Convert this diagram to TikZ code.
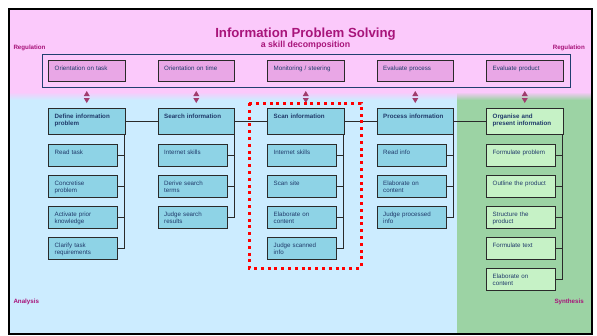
\documentclass[tikz,border=0pt]{standalone}
\usepackage{fontspec}
\setmainfont{Liberation Sans}
\definecolor{pinkbg}{HTML}{FBC9FB}
\definecolor{bluebg}{HTML}{CCECFF}
\definecolor{greenbg}{HTML}{9CD3A4}
\definecolor{cyanbox}{HTML}{8ED3E6}
\definecolor{greenbox}{HTML}{C6F2C6}
\definecolor{regbox}{HTML}{E9A7E6}
\definecolor{txt}{HTML}{203A6A}
\definecolor{mag}{HTML}{A8147A}
\definecolor{arrcol}{HTML}{A03C6E}
\definecolor{boxline}{HTML}{2A2A2A}
\definecolor{regline}{HTML}{1F3F6F}
\newcommand\bx[5]{\node[#1] (#2) at (#3,#4) {}; \node[lab] (#2t) at ([shift={(6.5,10)}]#2.north west) {#5};}
\begin{document}
\begin{tikzpicture}[x=1pt,y=-1pt,
  base/.style={draw=boxline, line width=1pt, anchor=north west, inner sep=0pt},
  regb/.style={base, fill=regbox, minimum width=76.5pt, minimum height=21pt},
  mainb/.style={base, fill=cyanbox, minimum width=76.5pt, minimum height=26pt},
  mainbg/.style={mainb, fill=greenbox},
  subb/.style={base, fill=cyanbox, minimum width=69pt, minimum height=21.5pt},
  subbg/.style={subb, fill=greenbox},
  lab/.style={anchor=base west, text width=68pt, align=left, inner sep=0pt, font=\fontsize{6.2}{7.5}\selectfont, text=txt},
  side/.style={inner sep=0pt, font=\bfseries\fontsize{6.2}{7}\selectfont, text=mag},
  conn/.style={draw=boxline, line width=0.8pt},
  arr/.style={fill=arrcol}
]
\useasboundingbox (0,0) rectangle (597,335);
\fill[white] (0,0) rectangle (597,335);
\fill[pinkbg] (8,8) rectangle (592,92);
\shade[top color=pinkbg,bottom color=bluebg] (8,92) rectangle (457,100);
\fill[bluebg] (8,100) rectangle (457,333.5);
\shade[top color=pinkbg,bottom color=greenbg] (457,92) rectangle (592,100);
\fill[greenbg] (457,100) rectangle (592,333.5);
\draw[line width=2pt] (8.5,8.5) rectangle (591.7,333.5);

% titles
\node[anchor=base, inner sep=0pt, font=\bfseries\fontsize{13.2}{15}\selectfont, text=mag] (title) at (305.5,37.3) {Information Problem Solving};
\node[anchor=base, inner sep=0pt, font=\bfseries\fontsize{8.8}{10}\selectfont, text=mag] (subtitle) at (305.5,47.7) {a skill decomposition};
\node[side, anchor=base west] (regl) at (13.3,49.8) {Regulation};
\node[side, anchor=base east] (regr) at (585,49.3) {Regulation};
\node[side, anchor=base west] (ana) at (13.3,303.9) {Analysis};
\node[side, anchor=base east] (syn) at (584,303.9) {Synthesis};

% regulation frame
\node[draw=regline, line width=0.8pt, anchor=north west, inner sep=0pt, minimum width=528pt, minimum height=33pt] (regframe) at (42,54) {};

% regulation boxes
\bx{regb}{r1}{48}{60}{Orientation on task}
\bx{regb}{r2}{157.5}{60}{Orientation on time}
\bx{regb}{r3}{267}{60}{Monitoring / steering}
\bx{regb}{r4}{376.5}{60}{Evaluate process}
\bx{regb}{r5}{486}{60}{Evaluate product}

% arrows
\foreach \n in {r1,r2,r3,r4,r5}{
  \fill[arr] ([shift={(-3,14)}]\n.south) -- ([shift={(3,14)}]\n.south) -- ([shift={(0,9)}]\n.south) -- cycle;
  \fill[arr] ([shift={(-3,16)}]\n.south) -- ([shift={(3,16)}]\n.south) -- ([shift={(0,21)}]\n.south) -- cycle;
}

% main boxes
\bx{mainb}{m1}{48}{108}{\bfseries Define information\\problem}
\bx{mainb}{m2}{157.5}{108}{\bfseries Search information}
\bx{mainb}{m3}{267}{108}{\bfseries Scan information}
\bx{mainb}{m4}{376.5}{108}{\bfseries Process information}
\bx{mainbg}{m5}{486}{108}{\bfseries Organise and\\present information}

% sub boxes column 1
\bx{subb}{a1}{48}{144}{Read task}
\bx{subb}{a2}{48}{175}{Concretise\\problem}
\bx{subb}{a3}{48}{206}{Activate prior\\knowledge}
\bx{subb}{a4}{48}{237}{Clarify task\\requirements}
% column 2
\bx{subb}{b1}{157.5}{144}{Internet skills}
\bx{subb}{b2}{157.5}{175}{Derive search\\terms}
\bx{subb}{b3}{157.5}{206}{Judge search\\results}
% column 3
\bx{subb}{c1}{267}{144}{Internet skills}
\bx{subb}{c2}{267}{175}{Scan site}
\bx{subb}{c3}{267}{206}{Elaborate on\\content}
\bx{subb}{c4}{267}{237}{Judge scanned\\info}
% column 4
\bx{subb}{d1}{376.5}{144}{Read info}
\bx{subb}{d2}{376.5}{175}{Elaborate on\\content}
\bx{subb}{d3}{376.5}{206}{Judge processed\\info}
% column 5
\bx{subbg}{e1}{486}{144}{Formulate problem}
\bx{subbg}{e2}{486}{175}{Outline the product}
\bx{subbg}{e3}{486}{206}{Structure the\\product}
\bx{subbg}{e4}{486}{237}{Formulate text}
\bx{subbg}{e5}{486}{268}{Elaborate on\\content}

% horizontal connectors between main boxes
\draw[conn] (m1.east) -- (m2.west);
\draw[conn] (m2.east) -- (m3.west);
\draw[conn] (m3.east) -- (m4.west);
\draw[conn] (m4.east) -- (m5.west);

% vertical trees
\coordinate (v1) at ([xshift=-0.8pt]m1.south east);
\coordinate (v2) at ([xshift=-0.8pt]m2.south east);
\coordinate (v3) at ([xshift=-0.8pt]m3.south east);
\coordinate (v4) at ([xshift=-0.8pt]m4.south east);
\coordinate (v5) at ([xshift=-0.8pt]m5.south east);
\draw[conn] (v1) |- (a4.east);
\foreach \s in {a1,a2,a3} \draw[conn] (\s.east) -- (\s.east -| v1);
\draw[conn] (v2) |- (b3.east);
\foreach \s in {b1,b2} \draw[conn] (\s.east) -- (\s.east -| v2);
\draw[conn] (v3) |- (c4.east);
\foreach \s in {c1,c2,c3} \draw[conn] (\s.east) -- (\s.east -| v3);
\draw[conn] (v4) |- (d3.east);
\foreach \s in {d1,d2} \draw[conn] (\s.east) -- (\s.east -| v4);
\draw[conn] (v5) |- (e5.east);
\foreach \s in {e1,e2,e3,e4} \draw[conn] (\s.east) -- (\s.east -| v5);

% red dotted highlight
\draw[red, line width=3pt, dash pattern=on 3pt off 3.8pt] (249,103) rectangle (361,268);
\end{tikzpicture}
\end{document}
